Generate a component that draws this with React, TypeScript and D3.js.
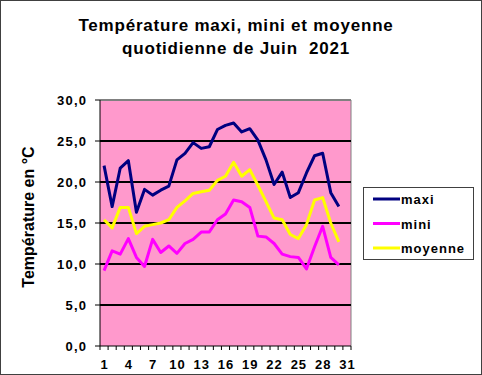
import * as d3 from "d3";

const days = d3.range(1, 32);
const maxi = [22.0, 17.0, 21.7, 22.6, 16.3, 19.1, 18.4, 19.0, 19.5, 22.7, 23.5, 24.8, 24.1, 24.3, 26.4, 26.9, 27.2, 26.1, 26.5, 25.1, 22.7, 19.7, 21.2, 18.1, 18.7, 21.1, 23.2, 23.5, 18.7, 17.0];
const mini = [9.2, 11.6, 11.2, 13.1, 10.8, 9.7, 13.0, 11.4, 12.2, 11.3, 12.5, 13.0, 13.9, 13.9, 15.4, 16.1, 17.8, 17.6, 16.9, 13.4, 13.3, 12.5, 11.2, 10.9, 10.8, 9.4, 12.1, 14.6, 10.8, 9.9];
const moyenne = [15.4, 14.4, 16.9, 16.9, 13.7, 14.6, 14.8, 15.0, 15.4, 16.9, 17.7, 18.6, 18.8, 19.0, 20.2, 20.7, 22.4, 20.7, 21.5, 19.6, 17.6, 15.6, 15.4, 13.6, 13.1, 14.8, 17.8, 18.1, 15.0, 12.7];
const yTicks = [0, 5, 10, 15, 20, 25, 30];
const xLabels = [1, 4, 7, 10, 13, 16, 19, 22, 25, 28, 31];

const series = [
  { name: "maxi", values: maxi, color: "#000080" },
  { name: "mini", values: mini, color: "#FF00FF" },
  { name: "moyenne", values: moyenne, color: "#FFFF00" },
];

const W = 482, H = 375;
const left = 100, right = 351, top = 100, bottom = 346;
const font = "Arial, 'Liberation Sans', sans-serif";

export default function App() {
  const x = d3.scaleBand<number>().domain(days).range([left, right]);
  const y = d3.scaleLinear().domain([0, 30]).range([bottom, top]);
  const line = d3.line<number>()
    .x((_, i) => x(i + 1)! + x.bandwidth() / 2)
    .y(d => y(d));

  const fmt = (v: number) => v.toFixed(1).replace(".", ",");

  return (
    <svg width={W} height={H} style={{ position: "absolute", left: 0, top: 0 }} fontFamily={font}>
      <rect x={0} y={0} width={W} height={H} fill="#fff" />
      <rect x={0.5} y={0.5} width={W - 1} height={H - 1} fill="none" stroke="#404040" />

      <g fontSize={17} fontWeight="bold" letterSpacing={0.8} textAnchor="middle">
        <text x={236} y={31}>Température maxi, mini et moyenne</text>
        <text x={236} y={54} style={{ whiteSpace: "pre" }}>quotidienne de Juin  2021</text>
      </g>

      <rect x={left} y={top} width={right - left} height={bottom - top} fill="#FF99CC" />
      <line x1={left} x2={right} y1={top} y2={top} stroke="#808080" strokeWidth={2} />
      <line x1={right} x2={right} y1={top} y2={bottom} stroke="#808080" strokeWidth={1} />
      {yTicks.filter(t => t > 0 && t < 30).map(t => (
        <line key={t} x1={left} x2={right} y1={y(t)} y2={y(t)} stroke="#000" strokeWidth={2} />
      ))}

      {series.map(s => (
        <path key={s.name} d={line(s.values) || ""} fill="none" stroke={s.color} strokeWidth={3} strokeLinejoin="round" />
      ))}

      <line x1={left} x2={left} y1={top} y2={bottom} stroke="#000" />
      <line x1={left} x2={right} y1={bottom} y2={bottom} stroke="#000" />
      {yTicks.map(t => (
        <g key={t}>
          <line x1={left - 5} x2={left} y1={y(t)} y2={y(t)} stroke="#000" />
          <text x={87.2} y={y(t) + 5} textAnchor="end" fontSize={13} fontWeight="bold" letterSpacing={1.2}>{fmt(t)}</text>
        </g>
      ))}
      {[...days, 32].map(d => {
        const px = d <= 31 ? x(d)! : right;
        return <line key={d} x1={px} x2={px} y1={bottom} y2={bottom + 4} stroke="#000" />;
      })}
      {xLabels.map(d => (
        <text key={d} x={x(d)! + x.bandwidth() / 2 + 0.5} y={369} textAnchor="middle" fontSize={13} fontWeight="bold" letterSpacing={1}>{d}</text>
      ))}

      <text transform={`translate(34,217) rotate(-90)`} textAnchor="middle" fontSize={16} fontWeight="bold">Température en °C</text>

      <rect x={363.5} y={187.5} width={110} height={72} fill="#fff" stroke="#404040" />
      {series.map((s, i) => (
        <g key={s.name}>
          <line x1={373} x2={400} y1={199 + i * 24.5} y2={199 + i * 24.5} stroke={s.color} strokeWidth={3} />
          <text x={401} y={199 + i * 24.5 + 5} fontSize={13} fontWeight="bold" letterSpacing={1}>{s.name}</text>
        </g>
      ))}
    </svg>
  );
}
